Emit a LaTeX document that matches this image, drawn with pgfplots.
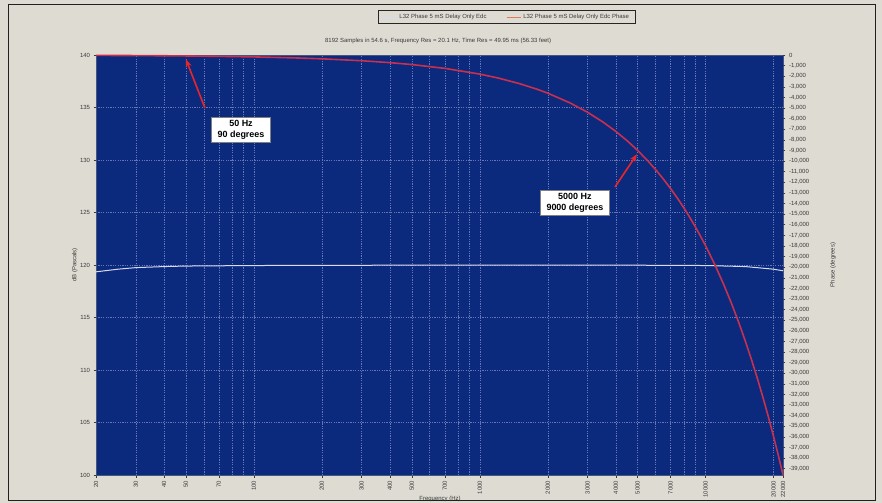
\documentclass[border=0pt]{standalone}
\usepackage{pgfplots}
\pgfplotsset{compat=1.18}
\usepackage{fontspec}
\setmainfont{Liberation Sans}
\usetikzlibrary{arrows.meta}

\definecolor{panel}{HTML}{DEDBD3}
\definecolor{plotblue}{HTML}{0B2A7E}
\definecolor{phasered}{HTML}{C8304E}
\definecolor{legphase}{HTML}{E07A5A}
\definecolor{magwhite}{HTML}{D8DAEE}
\definecolor{gridc}{HTML}{6676B4}
\definecolor{arrowred}{HTML}{E8262A}
\definecolor{labelgray}{HTML}{3A3A3A}

% magnitude response
\pgfplotstableread{
f     db
20    119.35
25    119.60
30    119.75
40    119.85
50    119.90
100   119.95
1000  120.00
5000  119.98
10000 119.95
15000 119.85
20000 119.60
22000 119.45
}\magdata

% phase of a pure 5 ms delay
\pgfplotstableread{
f      ph
20     -36
30     -54
40     -72
50     -90
70     -126
100    -180
150    -270
200    -360
300    -540
400    -720
500    -900
700    -1260
1000   -1800
1200   -2160
1500   -2700
1800   -3240
2000   -3600
2500   -4500
3000   -5400
3500   -6300
4000   -7200
4500   -8100
5000   -9000
5500   -9900
6000   -10800
6500   -11700
7000   -12600
7500   -13500
8000   -14400
8500   -15300
9000   -16200
9500   -17100
10000  -18000
11000  -19800
12000  -21600
13000  -23400
14000  -25200
15000  -27000
16000  -28800
17000  -30600
18000  -32400
19000  -34200
20000  -36000
21000  -37800
22000  -39600
}\phasedata

\begin{document}
\begin{tikzpicture}
\fill[panel] (0,0) rectangle (882bp,503bp);
\useasboundingbox (0,0) rectangle (882bp,503bp);
\draw[gray!25!black, line width=1bp] (8bp,2bp) rectangle (875bp,498bp);

% left axis: level in dB
\begin{axis}[
  at={(96bp,28bp)}, anchor=south west, scale only axis,
  width=687bp, height=420bp,
  xmode=log, xmin=20, xmax=22000,
  /pgf/number format/assume math mode=true,
  tick label style={font=\fontsize{6}{7}\selectfont, text=labelgray},
  label style={font=\fontsize{6}{7}\selectfont, text=labelgray},
  tick align=outside, major tick length=2.5bp, minor tick length=0pt,
  tick style={labelgray, line width=0.4bp},
  xtick pos=bottom, ytick pos=left,
  axis background/.style={fill=plotblue},
  axis line style={draw=gray!50!plotblue, line width=0.5bp},
  ymin=100, ymax=140, ytick={100,105,...,140},
  xtick={20,30,40,50,70,100,200,300,400,500,700,1000,2000,3000,4000,5000,7000,10000,20000,22000},
  xticklabels={20,30,40,50,70,100,200,300,400,500,700,1000,2000,3000,4000,5000,7000,10000,20000,22000},
  minor xtick={60,80,90,600,800,900,6000,8000,9000},
  xticklabel style={rotate=90, anchor=east},
  xmajorgrids, xminorgrids, ymajorgrids,
  grid style={gridc, line width=0.5bp, dash pattern=on 1.2bp off 1.2bp},
  minor grid style={gridc, line width=0.5bp, dash pattern=on 1.2bp off 1.2bp},
  xlabel={Frequency (Hz)},
  xlabel style={at={(axis description cs:0.5007,-0.057)}, anchor=center},
  ylabel={dB (Pascals)},
  ylabel style={at={(axis description cs:-0.031,0.5)}, anchor=center},
  title={8192 Samples in 54.6 s, Frequency Res = 20.1 Hz, Time Res = 49.95 ms (56.33 feet)},
  title style={at={(axis description cs:0.498,1.019)}, anchor=center,
    font=\fontsize{6}{7}\selectfont, text=labelgray},
]
\addplot[magwhite, line width=1bp] table[x=f, y=db] {\magdata};
\end{axis}

% right axis: phase in degrees
\begin{axis}[
  at={(96bp,28bp)}, anchor=south west, scale only axis,
  width=687bp, height=420bp,
  xmode=log, xmin=20, xmax=22000,
  /pgf/number format/assume math mode=true,
  /pgf/number format/fixed,
  /pgf/number format/1000 sep={,},
  scaled y ticks=false,
  tick label style={font=\fontsize{6}{7}\selectfont, text=labelgray},
  label style={font=\fontsize{6}{7}\selectfont, text=labelgray},
  tick align=outside, major tick length=2.5bp, minor tick length=0pt,
  tick style={labelgray, line width=0.4bp},
  axis x line=none, axis y line*=right,
  axis line style={draw=none},
  ymin=-39600, ymax=0, ytick={-39000,-38000,...,0},
  ylabel={Phase (degrees)},
  ylabel style={at={(axis description cs:1.073,0.5)}, anchor=center},
  legend style={at={(0.598,1.0905)}, anchor=center, legend columns=2,
    fill=panel, draw=gray!30!black, line width=0.8bp,
    font=\fontsize{6}{7}\selectfont, text=labelgray,
    inner xsep=4bp, inner ysep=1.2bp},
  legend cell align=left,
  legend image code/.code={\draw[#1, line width=0.8bp] (0bp,0bp) -- (14bp,0bp);},
  /tikz/every even column/.append style={column sep=18bp},
]
\addlegendimage{magwhite}
\addlegendentry{L32 Phase 5 mS Delay Only Edc}
\addlegendimage{legphase}
\addlegendentry{L32 Phase 5 mS Delay Only Edc Phase}
\addplot[phasered, line width=1.6bp, forget plot] table[x=f, y=ph] {\phasedata};

\draw[arrowred, line width=1.6bp, -{Stealth[length=8bp, width=6bp]}]
  (axis cs:60.7,-4997) -- (axis cs:50,-400);
\node[fill=white, draw=gray, line width=0.5bp, align=center,
  font=\fontsize{9}{10.5}\selectfont\bfseries, inner xsep=6bp, inner ysep=3bp]
  at (axis cs:87.7,-7071) {50 Hz\\90 degrees};

\draw[arrowred, line width=1.6bp, -{Stealth[length=8bp, width=6bp]}]
  (axis cs:3968,-12446) -- (axis cs:4966,-9350);
\node[fill=white, draw=gray, line width=0.5bp, align=center,
  font=\fontsize{9}{10.5}\selectfont\bfseries, inner xsep=6bp, inner ysep=3bp]
  at (axis cs:2638,-13954) {5000 Hz\\9000 degrees};
\end{axis}
\end{tikzpicture}
\end{document}
